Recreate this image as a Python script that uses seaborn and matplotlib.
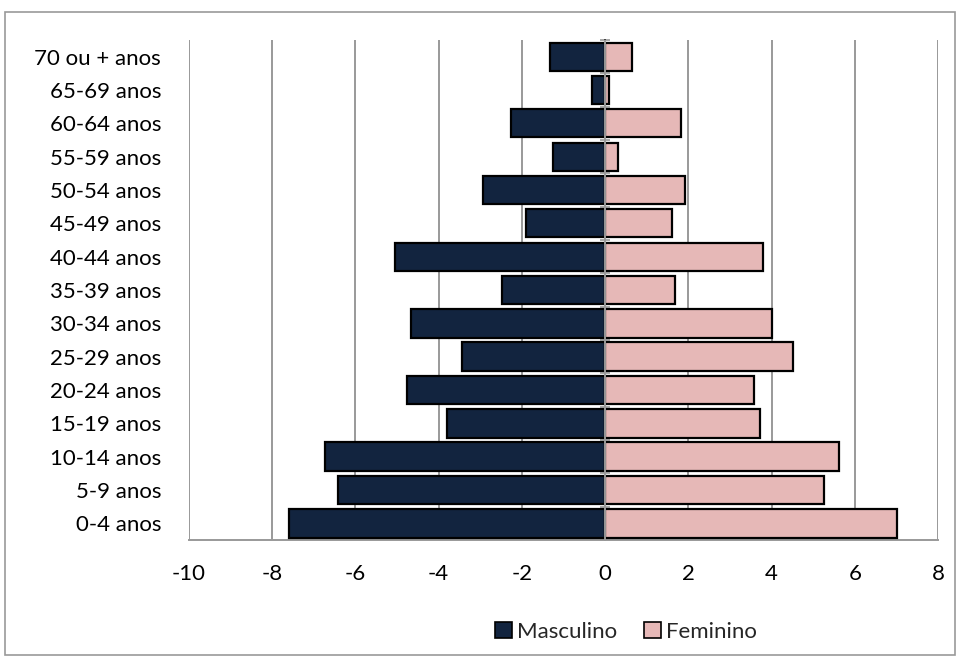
import matplotlib
matplotlib.use("Agg")
import matplotlib.pyplot as plt
import seaborn as sns
import pandas as pd
from matplotlib.patches import Patch, Rectangle

ages = ["70 ou + anos", "65-69 anos", "60-64 anos", "55-59 anos", "50-54 anos",
        "45-49 anos", "40-44 anos", "35-39 anos", "30-34 anos", "25-29 anos",
        "20-24 anos", "15-19 anos", "10-14 anos", "5-9 anos", "0-4 anos"]
masculino = [-1.33, -0.31, -2.27, -1.25, -2.93, -1.89, -5.04, -2.48,
             -4.67, -3.44, -4.75, -3.81, -6.72, -6.41, -7.59]
feminino = [0.65, 0.1, 1.82, 0.30, 1.91, 1.60, 3.80, 1.69,
            4.01, 4.52, 3.58, 3.72, 5.62, 5.27, 7.01]
series_names = ["Masculino", "Feminino"]
xticks = [-10, -8, -6, -4, -2, 0, 2, 4, 6, 8]
xticklabels = ["-10", "-8", "-6", "-4", "-2", "0", "2", "4", "6", "8"]

colors = {"Masculino": "#12243F", "Feminino": "#E6B8B7"}

df = pd.DataFrame({
    "age": ages * 2,
    "value": masculino + feminino,
    "sex": [series_names[0]] * len(ages) + [series_names[1]] * len(ages),
})

sns.set_theme(style="white")
plt.rcParams["font.family"] = ["Lato", "DejaVu Sans"]

fig = plt.figure(figsize=(9.6, 6.62), dpi=100)
ax = fig.add_axes([189 / 960, 1 - 540 / 662, (938 - 189) / 960, 500 / 662])

sns.barplot(data=df, x="value", y="age", hue="sex", order=ages,
            hue_order=series_names, palette=colors, saturation=1, dodge=False,
            orient="h", width=0.85, edgecolor="black", linewidth=1.6,
            legend=False, ax=ax, zorder=3)

ax.set_xlim(-10, 8)
ax.set_ylim(len(ages) - 0.5, -0.5)
ax.set_xticks(xticks)
ax.set_xticklabels(xticklabels)
ax.set_xlabel("")
ax.set_ylabel("")

ax.grid(axis="x", color="#999999", linewidth=1.4, zorder=0)
ax.grid(axis="y", visible=False)
ax.set_axisbelow(True)

for s in ["top", "right", "left"]:
    ax.spines[s].set_visible(False)
ax.spines["bottom"].set_color("#999999")
ax.spines["bottom"].set_linewidth(1.4)

ax.tick_params(axis="x", which="major", direction="out", length=6, width=1.4,
               color="#999999", labelsize=16, pad=11, labelcolor="black")
ax.tick_params(axis="y", length=0, labelsize=16, pad=20, labelcolor="black")

# zero axis with boundary tick marks
ax.axvline(0, color="#999999", linewidth=1.4, zorder=4)
sec = ax.secondary_yaxis(10 / 18)
sec.set_yticks([i + 0.5 for i in range(-1, len(ages))])
sec.set_yticklabels([])
sec.tick_params(direction="inout", length=7, width=1.2, color="#999999")
sec.spines["left"].set_color("#999999")
sec.spines["left"].set_linewidth(1.4)

handles = [Patch(facecolor=colors[n], edgecolor="black", linewidth=1.2, label=n)
           for n in series_names]
fig.legend(handles=handles, loc="center", bbox_to_anchor=(626 / 960, 1 - 632 / 662),
           ncol=2, frameon=False, fontsize=16, handlelength=0.75, handleheight=0.75,
           handletextpad=0.25, columnspacing=1.2)

fig.patches.append(Rectangle((5 / 960, 1 - 655 / 662), 950 / 960, 643 / 662,
                             transform=fig.transFigure, fill=False,
                             edgecolor="#999999", linewidth=1.2))

fig.savefig("out.png", dpi=100)
